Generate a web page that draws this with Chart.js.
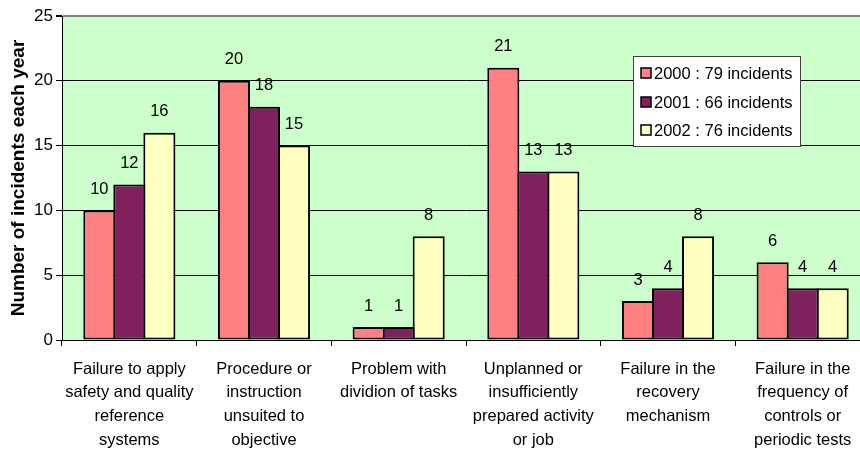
<!DOCTYPE html>
<html>
<head>
<meta charset="utf-8">
<script src="https://cdn.jsdelivr.net/npm/chart.js@4/dist/chart.umd.min.js"></script>
<style>
html,body{margin:0;padding:0;background:#fff;overflow:hidden;}
#wrap{width:860px;height:451px;overflow:hidden;position:relative;}
canvas{display:block;}
</style>
</head>
<body>
<div id="wrap"><canvas id="c" width="872" height="451"></canvas></div>
<script>
const categories = [
  ["Failure to apply","safety and quality","reference","systems"],
  ["Procedure or","instruction","unsuited to","objective"],
  ["Problem with","dividion of tasks"],
  ["Unplanned or","insufficiently","prepared activity","or job"],
  ["Failure in the","recovery","mechanism"],
  ["Failure in the","frequency of","controls or","periodic tests"]
];
const seriesNames = ["2000 : 79 incidents","2001 : 66 incidents","2002 : 76 incidents"];
const values2000 = [10, 20, 1, 21, 3, 6];
const values2001 = [12, 18, 1, 13, 4, 4];
const values2002 = [16, 15, 8, 13, 8, 4];
const yTicks = [0, 5, 10, 15, 20, 25];
const yTitle = "Number of incidents each year";

const FONT = "'Liberation Sans', Arial, sans-serif";
const colors = ['#FF8080', '#80205F', '#FFFFC0'];

const bgPlugin = {
  id: 'bg',
  beforeDraw(chart) {
    const {ctx, chartArea: a} = chart;
    ctx.save();
    ctx.fillStyle = '#CCFFCC';
    ctx.fillRect(a.left, a.top, a.right - a.left, a.bottom - a.top);
    ctx.restore();
  }
};

const labelPlugin = {
  id: 'vals',
  afterDatasetsDraw(chart) {
    const ctx = chart.ctx;
    ctx.save();
    ctx.font = '16.5px ' + FONT;
    ctx.fillStyle = '#000';
    ctx.textAlign = 'center';
    ctx.textBaseline = 'middle';
    chart.data.datasets.forEach((ds, i) => {
      const meta = chart.getDatasetMeta(i);
      meta.data.forEach((bar, j) => {
        ctx.fillText(String(ds.data[j]), bar.x, bar.y - 21);
      });
    });
    ctx.restore();
  }
};

const legendPlugin = {
  id: 'customLegend',
  afterDraw(chart) {
    const ctx = chart.ctx;
    const x = 633.5, y = 56.5, w = 167, h = 90;
    ctx.save();
    ctx.fillStyle = '#fff';
    ctx.fillRect(x, y, w, h);
    ctx.strokeStyle = '#404040';
    ctx.lineWidth = 1;
    ctx.strokeRect(x, y, w, h);
    ctx.font = '16.5px ' + FONT;
    ctx.textBaseline = 'middle';
    ctx.textAlign = 'left';
    const rows = [73, 102, 130];
    chart.data.datasets.forEach((ds, i) => {
      const cy = rows[i];
      ctx.fillStyle = ds.backgroundColor;
      ctx.fillRect(641, cy - 5, 10, 10);
      ctx.strokeStyle = '#000';
      ctx.lineWidth = 1.5;
      ctx.strokeRect(641, cy - 5, 10, 10);
      ctx.fillStyle = '#000';
      ctx.fillText(ds.label, 654, cy + 1);
    });
    ctx.restore();
  }
};

const mk = (i, data) => ({
  label: seriesNames[i],
  data: data,
  backgroundColor: colors[i],
  borderColor: '#000',
  borderWidth: 2,
  borderSkipped: false,
  categoryPercentage: 0.669,
  barPercentage: 1.067
});

new Chart(document.getElementById('c'), {
  type: 'bar',
  data: {
    labels: categories,
    datasets: [mk(0, values2000), mk(1, values2001), mk(2, values2002)]
  },
  options: {
    responsive: false,
    animation: false,
    devicePixelRatio: 1,
    layout: {padding: {top: 16, right: 2, left: 0, bottom: 0}},
    plugins: {legend: {display: false}, tooltip: {enabled: false}},
    scales: {
      x: {
        grid: {display: true, drawOnChartArea: false, drawTicks: true, tickLength: 6, color: '#000', offset: true},
        border: {display: true, color: '#000', width: 1},
        ticks: {color: '#000', font: {family: FONT, size: 16.5, lineHeight: 1.45}, padding: 11, maxRotation: 0, autoSkip: false},
        afterFit(s) { s.height = 111; }
      },
      y: {
        min: 0, max: 25,
        afterBuildTicks(s) { s.ticks = yTicks.map(v => ({value: v})); },
        grid: {
          color: c => (c.tick && c.tick.value === 25) ? '#808080' : '#000',
          lineWidth: c => (c.tick && c.tick.value === 25) ? 2 : 1,
          tickColor: '#000', tickLength: 6, drawTicks: true
        },
        border: {display: true, color: '#000', width: 1},
        ticks: {color: '#000', font: {family: FONT, size: 17}, padding: 3},
        title: {display: true, text: yTitle, color: '#000', font: {family: FONT, size: 19, weight: 'bold'}, padding: {top: 7, bottom: 0}},
        afterFit(s) { s.width = 62; }
      }
    }
  },
  plugins: [bgPlugin, labelPlugin, legendPlugin]
});
</script>
</body>
</html>
